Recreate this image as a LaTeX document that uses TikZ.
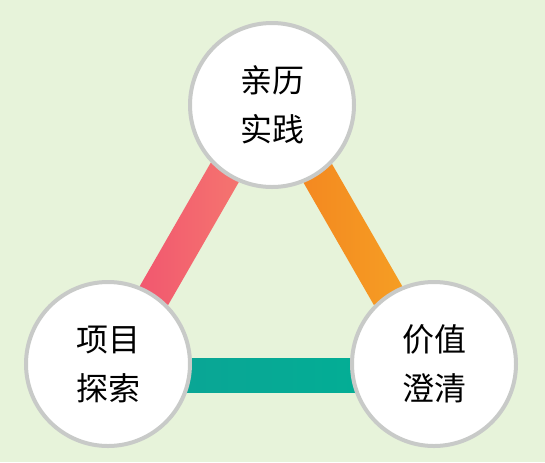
\documentclass[tikz,border=0pt]{standalone}
\usepackage{fontspec}
\newfontfamily\cjk{Noto Sans CJK SC}
\usetikzlibrary{calc}
\definecolor{bgcol}{HTML}{E7F3DA}
\definecolor{ringcol}{HTML}{C8CAC8}
\definecolor{redA}{HTML}{F04A70}
\definecolor{redB}{HTML}{F6826E}
\definecolor{orangeA}{HTML}{F37F1F}
\definecolor{orangeB}{HTML}{F6A725}
\definecolor{tealA}{HTML}{0DA294}
\definecolor{tealB}{HTML}{00B196}

\begin{document}
\begin{tikzpicture}[
  x=0.5pt,
  y=-0.5pt,
  stage/.style={circle, draw=ringcol, fill=white, line width=2pt, minimum size=82pt, inner sep=0pt, align=center, font=\cjk\fontsize{16}{24.5}\selectfont},
  redbar/.style={left color=redA, right color=redB},
  orangebar/.style={left color=orangeA, right color=orangeB},
  tealbar/.style={left color=tealA, right color=tealB}
]
\fill[bgcol] (0,0) rectangle (545,462);
\useasboundingbox (0,0) rectangle (545,462);
\coordinate (pa) at (271,92);
\coordinate (pb) at (108,375.5);
\coordinate (pc) at (434,375.5);
\shade[redbar] ($(pa)!8.5pt!90:(pb)$) -- ($(pb)!8.5pt!-90:(pa)$) -- ($(pb)!8.5pt!90:(pa)$) -- ($(pa)!8.5pt!-90:(pb)$) -- cycle;
\shade[orangebar] ($(pa)!8.5pt!90:(pc)$) -- ($(pc)!8.5pt!-90:(pa)$) -- ($(pc)!8.5pt!90:(pa)$) -- ($(pa)!8.5pt!-90:(pc)$) -- cycle;
\shade[tealbar] ($(pb)!8.5pt!90:(pc)$) -- ($(pc)!8.5pt!-90:(pb)$) -- ($(pc)!8.5pt!90:(pb)$) -- ($(pb)!8.5pt!-90:(pc)$) -- cycle;
\node[stage] (shijian) at (272,105) {亲历\\实践};
\node[stage] (tansuo) at (108,364) {项目\\探索};
\node[stage] (chengqing) at (434,364) {价值\\澄清};
\end{tikzpicture}
\end{document}
